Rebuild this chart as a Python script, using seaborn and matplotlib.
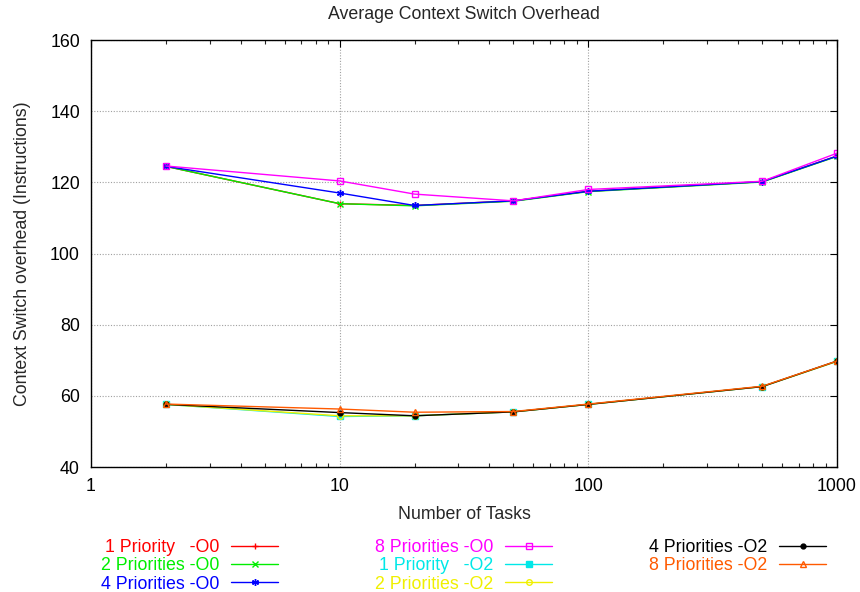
import pandas as pd
import matplotlib
matplotlib.use('Agg')
import matplotlib.pyplot as plt
import seaborn as sns
from matplotlib.ticker import LogLocator, FixedLocator, NullFormatter

# Number of tasks
tasks = [2, 10, 20, 50, 100, 500, 1000]

# Context switch overhead (instructions)
p1_o0 = [124.5, 114.0, 113.5, 114.8, 117.5, 120.2, 127.4]
p2_o0 = [124.5, 114.0, 113.4, 114.7, 117.4, 120.1, 127.3]
p4_o0 = [124.5, 117.0, 113.5, 114.8, 117.5, 120.2, 127.4]
p8_o0 = [124.6, 120.4, 116.7, 114.8, 118.0, 120.3, 128.2]
p1_o2 = [57.6, 54.2, 54.4, 55.5, 57.6, 62.6, 69.7]
p2_o2 = [57.6, 54.4, 54.4, 55.5, 57.6, 62.6, 69.7]
p4_o2 = [57.6, 55.3, 54.4, 55.5, 57.6, 62.6, 69.8]
p8_o2 = [57.7, 56.3, 55.4, 55.6, 57.7, 62.7, 69.8]

labels = ['1 Priority   -O0', '2 Priorities -O0', '4 Priorities -O0', '8 Priorities -O0',
          '1 Priority   -O2', '2 Priorities -O2', '4 Priorities -O2', '8 Priorities -O2']
series = [p1_o0, p2_o0, p4_o0, p8_o0, p1_o2, p2_o2, p4_o2, p8_o2]
colors = ['#ff0000', '#00ee00', '#0000ff', '#ff00ff', '#00e8e8', '#f0f000', '#000000', '#ff5a00']
markers = ['+', 'x', (6, 2, 0), 's', 's', 'o', 'o', '^']
filled = [True, True, True, False, True, False, True, False]
msizes = [5, 4.5, 5, 4.5, 4.5, 4, 3.5, 4.5]

sns.set_style('white')
plt.rcParams['font.family'] = ['Liberation Sans', 'DejaVu Sans']
fs = 12.8

fig = plt.figure(figsize=(8.6, 5.92), dpi=100)
ax = fig.add_axes([0.1058, 0.2111, 0.8675, 0.7213])

for lab, vals, col, mk, fl, ms in zip(labels, series, colors, markers, filled, msizes):
    d = pd.DataFrame({'tasks': tasks, 'overhead': vals})
    sns.lineplot(data=d, x='tasks', y='overhead', ax=ax, color=col, marker=mk,
                 markersize=ms, linewidth=1.0, label=lab,
                 markerfacecolor=col if fl else 'none', markeredgecolor=col,
                 markeredgewidth=1.0)

ax.set_xscale('log')
ax.set_xlim(1, 1000)
ax.set_ylim(40, 160)
ax.yaxis.set_major_locator(FixedLocator([40, 60, 80, 100, 120, 140, 160]))
ax.xaxis.set_major_locator(FixedLocator([1, 10, 100, 1000]))
ax.set_xticklabels(['1', '10', '100', '1000'])
ax.xaxis.set_minor_locator(LogLocator(base=10, subs=range(2, 10)))
ax.xaxis.set_minor_formatter(NullFormatter())
ax.tick_params(axis='both', which='major', direction='in', length=5, width=0.8,
               top=True, right=True, labelsize=fs, colors='black', pad=8)
ax.tick_params(axis='x', which='minor', direction='in', length=3, width=0.8,
               top=True, bottom=True)
ax.grid(True, which='major', color='#a0a0a0', linestyle=(0, (1, 1.5)), linewidth=0.8)
for s in ax.spines.values():
    s.set_color('black')
    s.set_linewidth(1.0)

ax.set_title('Average Context Switch Overhead', fontsize=fs, pad=15)
ax.set_xlabel('Number of Tasks', fontsize=fs, labelpad=8)
ax.set_ylabel('Context Switch overhead (Instructions)', fontsize=fs, labelpad=14)

handles, labs = ax.get_legend_handles_labels()
ax.get_legend().remove()
leg = fig.legend(handles, labs, loc='upper center', bbox_to_anchor=(0.539, 0.0895),
                 ncol=3, frameon=False, markerfirst=False, fontsize=fs,
                 handlelength=2.64, handletextpad=0.67, labelspacing=0.075,
                 columnspacing=5.45, borderpad=0, borderaxespad=0)
for txt, col in zip(leg.get_texts(), colors):
    txt.set_color(col)

fig.savefig('out.png', dpi=100)
